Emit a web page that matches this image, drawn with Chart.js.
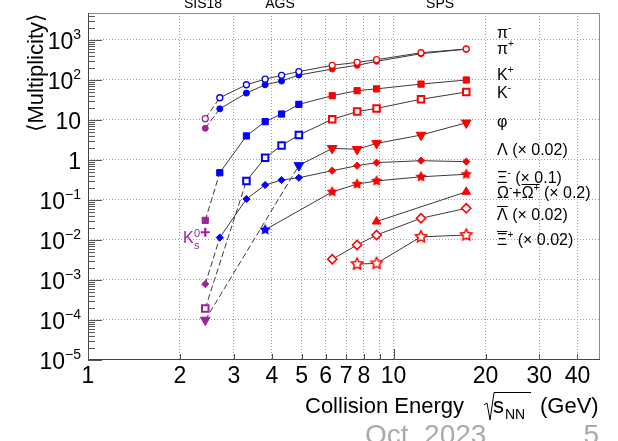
<!DOCTYPE html>
<html>
<head>
<meta charset="utf-8">
<script src="https://cdn.jsdelivr.net/npm/chart.js@4.4.0/dist/chart.umd.min.js"></script>
<style>
  html, body { margin: 0; padding: 0; background: #fff; }
  #wrap { width: 618px; height: 441px; }
</style>
</head>
<body>
<div id="wrap"><canvas id="chart" width="618" height="441"></canvas></div>
<script>
/* ── hadron multiplicities vs collision energy (log-log) ── */

const MAGENTA = '#a0209e';
const BLUE    = '#0000ff';
const RED     = '#ff0000';
const LINE    = '#3a3a3a';
const FONT    = '"Liberation Sans", Arial, Helvetica, sans-serif';

// energies in GeV, yields already scaled as in the labels
const E_PION    = [2.42, 2.7, 3.3, 3.8, 4.3, 4.9, 6.3, 7.6, 8.8, 12.3, 17.3];
const PI_MINUS  = [10.8, 36, 76, 105, 131, 162, 233, 276, 322, 480, 596];
const PI_PLUS   = [6.2, 19, 47, 76, 94, 133, 188, 233, 293, 454, 590];

const E_KPLUS   = [2.42, 2.7, 3.3, 3.8, 4.3, 4.9, 6.3, 7.6, 8.8, 12.3, 17.3];
const K_PLUS    = [0.031, 0.48, 4.0, 9.1, 14.1, 24.6, 40.5, 54, 60, 79, 100];

const E_KMINUS  = [2.42, 3.3, 3.8, 4.3, 4.9, 6.3, 7.6, 8.8, 12.3, 17.3];
const K_MINUS   = [1.95e-4, 0.30, 1.14, 2.3, 4.2, 10.4, 16.2, 19.5, 33, 50];

const E_PHI     = [2.42, 4.9, 6.3, 7.6, 8.8, 12.3, 17.3];
const PHI       = [1.0e-4, 0.73, 1.95, 1.85, 2.6, 4.2, 8.5];

const E_LAMBDA  = [2.42, 2.7, 3.3, 3.8, 4.3, 4.9, 6.3, 7.6, 8.8, 12.3, 17.3];
const LAMBDA    = [7.9e-4, 0.0115, 0.106, 0.237, 0.316, 0.36, 0.54, 0.72, 0.86, 0.96, 0.91];

const E_XI      = [3.8, 6.3, 7.6, 8.8, 12.3, 17.3];
const XI_MINUS  = [0.018, 0.16, 0.25, 0.30, 0.38, 0.44];

const E_OMEGA   = [8.8, 17.3];
const OMEGA     = [0.029, 0.16];

const E_ALAMBDA = [6.3, 7.6, 8.8, 12.3, 17.3];
const ANTI_LAMBDA = [0.0033, 0.0075, 0.0133, 0.035, 0.062];

const E_AXI     = [7.6, 8.8, 12.3, 17.3];
const ANTI_XI   = [0.0025, 0.0026, 0.012, 0.0133];

const E_K0S     = [2.42];
const K0S       = [0.0156];

// axes
const X_GRID   = [2, 3, 4, 5, 6, 7, 8, 9, 10, 20, 30, 40];
const X_LABELS = [1, 2, 3, 4, 5, 6, 7, 8, 10, 20, 30, 40];
const Y_EXP    = [-5, -4, -3, -2, -1, 0, 1, 2, 3];
const ACCEL    = ['SIS18', 'AGS', 'SPS'];
const ACCEL_E  = [2.38, 4.25, 14.2];

const energyColor = e => e < 2.5 ? MAGENTA : (e < 6 ? BLUE : RED);

// ROOT-like 5-point star marker
function starMarker(color, filled, r) {
  const c = document.createElement('canvas');
  const s = Math.ceil(2 * r + 4);
  c.width = s; c.height = s;
  const g = c.getContext('2d');
  g.beginPath();
  for (let i = 0; i < 10; i++) {
    const rad = i % 2 ? r * 0.5 : r;
    const a = -Math.PI / 2 + i * Math.PI / 5;
    const px = s / 2 + rad * Math.cos(a), py = s / 2 + rad * Math.sin(a);
    i ? g.lineTo(px, py) : g.moveTo(px, py);
  }
  g.closePath();
  if (filled) { g.fillStyle = color; g.fill(); }
  else { g.fillStyle = '#fff'; g.fill(); g.strokeStyle = color; g.lineWidth = 1.5; g.stroke(); }
  return c;
}

const SERIES = [
  { x: E_PION,    y: PI_MINUS,    style: 'circle',   r: 3,   open: true,  dash: true },
  { x: E_PION,    y: PI_PLUS,     style: 'circle',   r: 3,   open: false, dash: true },
  { x: E_KPLUS,   y: K_PLUS,      style: 'rect',     r: 4.4, open: false, dash: true },
  { x: E_KMINUS,  y: K_MINUS,     style: 'rect',     r: 4.6, open: true,  dash: true, bw: 2 },
  { x: E_PHI,     y: PHI,         style: 'triangle', r: 5.6, open: false, dash: true, rot: 180 },
  { x: E_LAMBDA,  y: LAMBDA,      style: 'rectRot',  r: 3.6, open: false, dash: true },
  { x: E_XI,      y: XI_MINUS,    style: 'star',     r: 6,   open: false },
  { x: E_OMEGA,   y: OMEGA,       style: 'triangle', r: 5,   open: false },
  { x: E_ALAMBDA, y: ANTI_LAMBDA, style: 'rectRot',  r: 4.6, open: true, bw: 1.6 },
  { x: E_AXI,     y: ANTI_XI,     style: 'star',     r: 6,   open: true },
  { x: E_K0S,     y: K0S,         style: 'cross',    r: 4.5, open: false, noLine: true, bw: 2.2 }
];

const datasets = SERIES.map(s => {
  const cols = s.x.map(energyColor);
  return {
    data: s.x.map((e, i) => ({ x: e, y: s.y[i] })),
    showLine: !s.noLine,
    borderColor: LINE,
    borderWidth: 1,
    tension: 0,
    fill: false,
    segment: { borderDash: c => (s.dash && c.p0DataIndex === 0) ? [6, 3] : undefined },
    pointStyle: s.style === 'star' ? cols.map(c => starMarker(c, !s.open, s.r)) : s.style,
    pointRadius: s.r,
    pointRotation: s.rot || 0,
    pointBorderColor: cols,
    pointBackgroundColor: s.open ? '#ffffff' : cols,
    pointBorderWidth: s.bw || (s.open ? 1.3 : 1)
  };
});

// text with super/subscripts and overlines: parts = [text, 'sup'|'sub'|'', overline]
function rich(ctx, x, y, parts, size, align, color) {
  const small = Math.round(size * 0.62);
  const fontOf = p => `${p[1] ? small : size}px ${FONT}`;
  const widths = parts.map(p => { ctx.font = fontOf(p); return ctx.measureText(p[0]).width; });
  const total = widths.reduce((a, b) => a + b, 0);
  let cx = align === 'right' ? x - total : align === 'center' ? x - total / 2 : x;
  ctx.fillStyle = color;
  ctx.strokeStyle = color;
  ctx.textAlign = 'left';
  ctx.textBaseline = 'alphabetic';
  parts.forEach((p, i) => {
    ctx.font = fontOf(p);
    const dy = p[1] === 'sup' ? -size * 0.42 : p[1] === 'sub' ? size * 0.28 : 0;
    ctx.fillText(p[0], cx, y + dy);
    if (p[2]) {
      const oy = Math.round(y - size * 0.86) + 0.5;
      ctx.lineWidth = 1;
      ctx.beginPath(); ctx.moveTo(cx, oy); ctx.lineTo(cx + widths[i] + (p[2] > 1 ? widths[i + 1] : 0), oy); ctx.stroke();
    }
    cx += widths[i];
  });
}

const rootAxes = {
  id: 'rootAxes',
  beforeDatasetsDraw(chart) {
    const { ctx, chartArea: a, scales: { x, y } } = chart;
    ctx.save();
    // frame
    ctx.lineWidth = 1;
    ctx.strokeStyle = '#8a8a8a';
    ctx.beginPath();
    ctx.moveTo(a.left, a.top + 0.5); ctx.lineTo(a.right - 0.5, a.top + 0.5); ctx.lineTo(a.right - 0.5, a.bottom);
    ctx.stroke();
    ctx.strokeStyle = '#444';
    ctx.beginPath();
    ctx.moveTo(a.left + 0.5, a.top); ctx.lineTo(a.left + 0.5, a.bottom - 0.5); ctx.lineTo(a.right, a.bottom - 0.5);
    ctx.stroke();
    // y tick marks (inside)
    ctx.strokeStyle = '#555';
    ctx.beginPath();
    for (const e of Y_EXP) {
      for (let m = 1; m <= 9; m++) {
        const v = m * Math.pow(10, e);
        if (v < y.min || v > y.max) continue;
        const py = Math.round(y.getPixelForValue(v)) + 0.5;
        const len = m === 1 ? 14 : 7;
        ctx.moveTo(a.left, py); ctx.lineTo(a.left + len, py);
      }
    }
    // x tick marks (inside)
    for (const d of [1, 10]) {
      for (let m = 1; m <= 9; m++) {
        const v = m * d;
        if (v < x.min || v > x.max) continue;
        const px = Math.round(x.getPixelForValue(v)) + 0.5;
        const len = m === 1 ? 11 : 6;
        ctx.moveTo(px, a.bottom); ctx.lineTo(px, a.bottom - len);
      }
    }
    ctx.stroke();
    ctx.restore();
  },
  afterDraw(chart) {
    const { ctx, chartArea: a, scales: { x, y } } = chart;
    ctx.save();
    // y tick labels
    for (const e of Y_EXP) {
      const py = y.getPixelForValue(Math.pow(10, e));
      let parts;
      if (e === 0) parts = [['1', '']];
      else if (e === 1) parts = [['10', '']];
      else parts = [['10', ''], [(e < 0 ? '\u2212' : '') + Math.abs(e), 'sup']];
      rich(ctx, 81, py + 9, parts, 23, 'right', '#000');
    }
    // x tick labels
    ctx.font = `23px ${FONT}`;
    ctx.fillStyle = '#000';
    ctx.textAlign = 'center';
    ctx.textBaseline = 'alphabetic';
    for (const v of X_LABELS) ctx.fillText(String(v), x.getPixelForValue(v), 383);

    // accelerator names along the top
    ctx.font = `14px ${FONT}`;
    ACCEL.forEach((t, i) => ctx.fillText(t, x.getPixelForValue(ACCEL_E[i]), 8));

    // y title
    ctx.save();
    ctx.translate(43, 0);
    ctx.rotate(-Math.PI / 2);
    ctx.font = `22px ${FONT}`;
    ctx.textAlign = 'right';
    ctx.fillText('\u27e8Multiplicity\u27e9', -13, 0);
    ctx.restore();

    // x title with sqrt(s_NN)
    ctx.font = `22px ${FONT}`;
    ctx.textAlign = 'left';
    ctx.fillText('Collision Energy', 305, 413);
    ctx.strokeStyle = '#000';
    ctx.lineWidth = 1;
    ctx.beginPath();
    ctx.moveTo(484, 405); ctx.lineTo(487, 403); ctx.lineTo(490, 420); ctx.lineTo(494, 392.5); ctx.lineTo(531, 392.5);
    ctx.stroke();
    ctx.fillText('s', 493, 413);
    ctx.font = `14px ${FONT}`;
    ctx.fillText('NN', 505, 419);
    ctx.font = `22px ${FONT}`;
    ctx.fillText('(GeV)', 540, 413);

    // particle labels on the right
    const L = 497, S = 16;
    rich(ctx, L, 38,  [['\u03c0', ''], ['-', 'sup']], S, 'left', '#000');
    rich(ctx, L, 54,  [['\u03c0', ''], ['+', 'sup']], S, 'left', '#000');
    rich(ctx, L, 80,  [['K', ''], ['+', 'sup']], S, 'left', '#000');
    rich(ctx, L, 98,  [['K', ''], ['-', 'sup']], S, 'left', '#000');
    rich(ctx, L, 127, [['\u03c6', '']], S, 'left', '#000');
    rich(ctx, L, 155, [['\u039b (\u00d7 0.02)', '']], S, 'left', '#000');
    rich(ctx, L, 183, [['\u039e', ''], ['-', 'sup'], [' (\u00d7 0.1)', '']], S, 'left', '#000');
    rich(ctx, L, 198, [['\u03a9', ''], ['-', 'sup'], ['+', ''], ['\u03a9', '', 2], ['+', 'sup'], [' (\u00d7 0.2)', '']], S, 'left', '#000');
    rich(ctx, L, 220, [['\u039b', '', 1], [' (\u00d7 0.02)', '']], S, 'left', '#000');
    rich(ctx, L, 245, [['\u039e', '', 1], ['+', 'sup'], [' (\u00d7 0.02)', '']], S, 'left', '#000');

    // K0s label next to its marker
    rich(ctx, 183, 243, [['K', '']], 16, 'left', MAGENTA);
    rich(ctx, 194, 237, [['0', '']], 11, 'left', MAGENTA);
    rich(ctx, 194, 249, [['s', '']], 11, 'left', MAGENTA);

    // footer
    ctx.font = `28px ${FONT}`;
    ctx.fillStyle = '#aaaaaa';
    ctx.textAlign = 'left';
    ctx.fillText('Oct. 2023', 365, 444);
    ctx.textAlign = 'right';
    ctx.fillText('5', 599, 444);
    ctx.restore();
  }
};

new Chart(document.getElementById('chart'), {
  type: 'line',
  data: { datasets },
  options: {
    responsive: false,
    devicePixelRatio: 1,
    animation: false,
    layout: { padding: { left: 88, right: 18, top: 13, bottom: 81 } },
    plugins: { legend: { display: false }, tooltip: { enabled: false } },
    scales: {
      x: {
        type: 'logarithmic', min: 1, max: 47.4,
        afterBuildTicks: s => { s.ticks = X_GRID.map(v => ({ value: v })); },
        ticks: { display: false },
        grid: { color: '#a0a0a0', lineWidth: 1, drawTicks: false },
        border: { display: false, dash: [1, 2] }
      },
      y: {
        type: 'logarithmic', min: 1e-5, max: 4730,
        afterBuildTicks: s => { s.ticks = Y_EXP.filter(e => e > -5).map(e => ({ value: Math.pow(10, e) })); },
        ticks: { display: false },
        grid: { color: '#a0a0a0', lineWidth: 1, drawTicks: false },
        border: { display: false, dash: [1, 2] }
      }
    }
  },
  plugins: [rootAxes]
});
</script>
</body>
</html>
